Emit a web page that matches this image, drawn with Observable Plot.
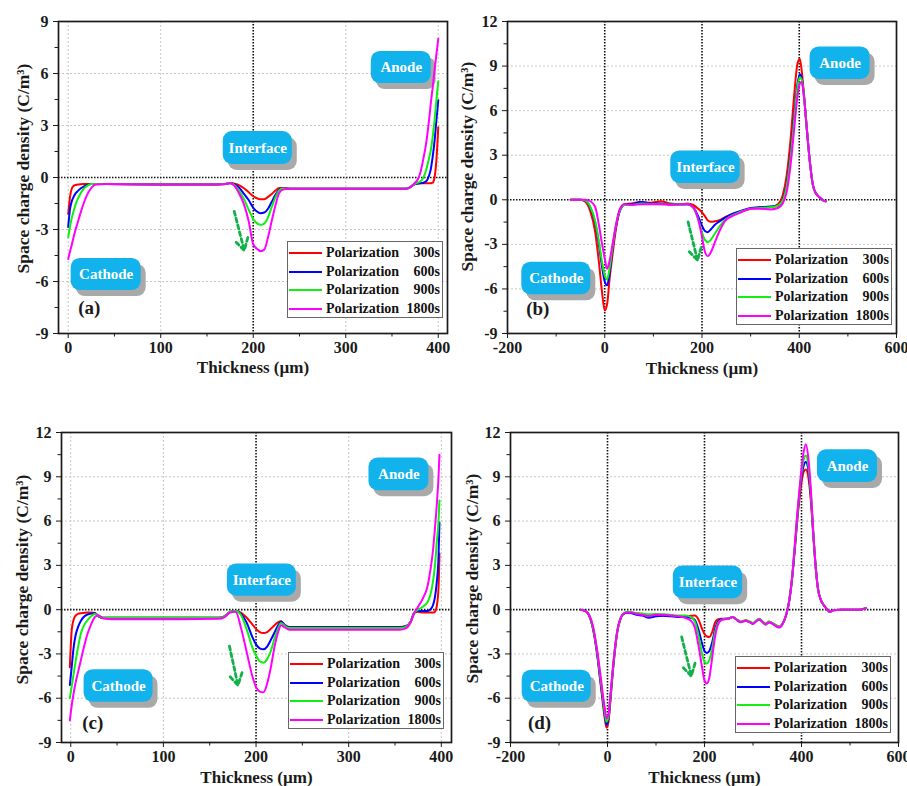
<!DOCTYPE html>
<html><head><meta charset="utf-8">
<script src="https://cdn.jsdelivr.net/npm/d3@7"></script>
<script src="https://cdn.jsdelivr.net/npm/@observablehq/plot@0.6"></script>
<style>
body{margin:0;background:#fff;}
#fig{position:relative;width:907px;height:786px;overflow:hidden;font-family:"Liberation Serif",serif;}
.panel{position:absolute;}
.legend{position:absolute;border:1px solid #666;background:#fff;font:bold 14px "Liberation Serif",serif;color:#111;box-sizing:border-box;padding:2px 2px 0 1px;}
.row{display:flex;align-items:center;height:18.5px;white-space:nowrap;}
.sw{width:33px;height:0;border-top:2.5px solid;margin-right:4px;}
.nm{flex:1;}
.tm{margin-left:3px;}
</style></head><body><div id="fig"></div><script>
// ---------- data ----------
const seriesName = "Polarization";
const seriesTimes = ["300s", "600s", "900s", "1800s"];
const seriesColors = ["#ff0000", "#0000ff", "#11ee11", "#ff00ff"];
const xLabel = "Thickness (µm)";
const yLabel = "Space charge density (C/m³)";

// Panel (a)
const aX =   [0, 2, 4, 6, 8, 10, 13, 16, 20, 25, 30, 40, 100, 160, 170, 175, 180, 185, 190, 195, 200, 205, 208, 212, 216, 220, 224, 228, 232, 240, 300, 365, 370, 374, 378, 381, 384, 387, 390, 392, 394, 396, 398, 400];
const aRed = [-2.1, -1.1, -0.62, -0.48, -0.43, -0.41, -0.39, -0.38, -0.38, -0.38, -0.37, -0.38, -0.4, -0.4, -0.38, -0.32, -0.36, -0.45, -0.62, -0.85, -1.08, -1.22, -1.26, -1.25, -1.12, -0.95, -0.75, -0.6, -0.6, -0.65, -0.65, -0.65, -0.55, -0.4, -0.35, -0.33, -0.33, -0.33, -0.33, -0.33, -0.3, 0.0, 1.0, 2.9];
const aBlue = [-2.85, -1.8, -1.35, -1.1, -0.92, -0.8, -0.65, -0.55, -0.45, -0.38, -0.37, -0.38, -0.4, -0.4, -0.38, -0.32, -0.4, -0.6, -0.95, -1.3, -1.75, -2.0, -2.06, -2.02, -1.8, -1.4, -1.0, -0.7, -0.63, -0.65, -0.65, -0.65, -0.55, -0.4, -0.35, -0.33, -0.3, -0.22, 0.1, 0.5, 1.2, 2.1, 3.3, 4.45];
const aGreen = [-3.45, -2.8, -2.3, -1.9, -1.55, -1.28, -0.95, -0.7, -0.5, -0.38, -0.37, -0.38, -0.4, -0.4, -0.38, -0.32, -0.45, -0.8, -1.25, -1.85, -2.4, -2.68, -2.73, -2.65, -2.3, -1.7, -1.15, -0.75, -0.64, -0.65, -0.65, -0.65, -0.55, -0.38, -0.3, -0.22, 0.0, 0.45, 1.1, 1.6, 2.35, 3.3, 4.45, 5.55];
const aMagenta = [-4.7, -4.25, -3.85, -3.4, -3.0, -2.65, -2.1, -1.6, -1.05, -0.6, -0.4, -0.38, -0.4, -0.4, -0.38, -0.33, -0.5, -0.95, -1.55, -2.5, -3.85, -4.15, -4.25, -4.15, -3.45, -2.5, -1.6, -0.9, -0.7, -0.65, -0.65, -0.65, -0.55, -0.35, -0.1, 0.35, 1.1, 2.0, 3.3, 4.3, 5.2, 6.2, 7.1, 8.0];

// Panel (b)
const bX = [-70, -50, -40, -30, -20, -12, -6, 0, 5, 10, 16, 22, 30, 40, 55, 75, 95, 115, 135, 155, 170, 182, 192, 200, 206, 212, 218, 226, 236, 248, 262, 280, 300, 320, 340, 356, 366, 374, 382, 390, 396, 401, 405, 410, 416, 422, 428, 435, 442, 450, 455];
const bRed = [0, 0, -0.13, -0.75, -2.1, -4.2, -6.1, -7.45, -7.0, -5.3, -3.7, -2.2, -0.8, -0.3, -0.25, -0.15, -0.2, -0.1, -0.25, -0.3, -0.25, -0.35, -0.6, -0.85, -1.1, -1.4, -1.48, -1.45, -1.38, -1.15, -0.97, -0.8, -0.6, -0.5, -0.5, -0.3, 0.3, 1.6, 4.0, 7.2, 9.1, 9.5, 8.7, 7.0, 4.6, 2.5, 1.0, 0.4, 0.15, -0.05, -0.1];
const bBlue = [0, 0, -0.05, -0.5, -1.5, -3.0, -4.4, -5.5, -5.75, -4.9, -3.3, -2.0, -0.85, -0.35, -0.3, -0.15, -0.25, -0.25, -0.3, -0.32, -0.3, -0.5, -1.1, -1.75, -2.1, -2.18, -2.0, -1.7, -1.45, -1.2, -0.95, -0.75, -0.55, -0.5, -0.45, -0.4, 0.0, 1.0, 3.0, 5.8, 7.7, 8.45, 8.2, 6.9, 4.6, 2.5, 1.0, 0.4, 0.15, -0.05, -0.1];
const bGreen = [0, 0, -0.05, -0.45, -1.4, -2.8, -4.1, -5.1, -5.35, -4.6, -3.2, -1.9, -0.8, -0.35, -0.35, -0.25, -0.28, -0.3, -0.32, -0.32, -0.3, -0.55, -1.3, -2.2, -2.7, -2.85, -2.7, -2.3, -1.8, -1.35, -1.05, -0.8, -0.6, -0.55, -0.5, -0.4, -0.05, 0.9, 2.8, 5.5, 7.5, 8.25, 8.1, 6.9, 4.6, 2.5, 1.0, 0.4, 0.15, -0.05, -0.1];
const bMagenta = [0, 0, 0, -0.1, -0.45, -1.7, -2.9, -3.95, -4.65, -4.1, -3.0, -1.9, -0.72, -0.3, -0.35, -0.3, -0.3, -0.3, -0.35, -0.3, -0.3, -0.5, -1.3, -2.5, -3.5, -3.8, -3.55, -2.9, -2.1, -1.4, -1.1, -0.85, -0.6, -0.6, -0.65, -0.55, -0.25, 0.5, 2.3, 4.9, 6.9, 7.8, 7.95, 6.8, 4.6, 2.5, 1.0, 0.4, 0.15, -0.05, -0.1];

// Panel (c)
const cX = [-1, 1, 3, 5, 8, 11, 14, 18, 22, 26, 30, 35, 45, 100, 160, 166, 172, 178, 184, 190, 196, 200, 204, 208, 212, 216, 220, 224, 227, 231, 236, 250, 300, 355, 362, 367, 371, 375, 380, 385, 388, 391, 393, 395, 397, 398];
const cRed = [-3.9, -1.4, -0.7, -0.42, -0.28, -0.24, -0.22, -0.2, -0.2, -0.22, -0.45, -0.55, -0.55, -0.55, -0.55, -0.45, -0.15, -0.1, -0.22, -0.55, -1.0, -1.3, -1.52, -1.59, -1.52, -1.3, -1.05, -0.85, -0.78, -1.05, -1.18, -1.18, -1.18, -1.18, -1.1, -0.8, -0.2, -0.15, -0.2, -0.2, -0.2, -0.2, -0.15, 0.2, 1.5, 3.8];
const cBlue = [-5.1, -3.9, -2.6, -1.8, -1.15, -0.75, -0.5, -0.33, -0.27, -0.25, -0.45, -0.55, -0.55, -0.55, -0.55, -0.45, -0.15, -0.1, -0.3, -0.9, -1.85, -2.35, -2.62, -2.69, -2.5, -2.05, -1.55, -1.05, -0.8, -1.05, -1.2, -1.2, -1.2, -1.2, -1.12, -0.8, -0.2, -0.1, -0.1, -0.1, 0.0, 0.3, 0.8, 1.8, 3.6, 5.9];
const cGreen = [-6.0, -5.2, -4.4, -3.6, -2.5, -1.6, -1.1, -0.73, -0.45, -0.3, -0.42, -0.55, -0.55, -0.55, -0.55, -0.45, -0.15, -0.1, -0.4, -1.35, -2.55, -3.1, -3.5, -3.59, -3.35, -2.8, -1.95, -1.25, -0.9, -1.1, -1.25, -1.25, -1.25, -1.25, -1.15, -0.8, -0.2, 0.0, 0.2, 0.5, 0.95, 1.9, 2.9, 4.5, 6.0, 7.4];
const cMagenta = [-7.5, -6.5, -5.7, -5.0, -4.2, -3.4, -2.6, -1.65, -1.0, -0.5, -0.38, -0.6, -0.65, -0.65, -0.62, -0.5, -0.2, -0.15, -1.3, -2.9, -4.5, -5.25, -5.55, -5.6, -5.0, -3.9, -2.5, -1.5, -1.05, -1.2, -1.36, -1.36, -1.36, -1.36, -1.25, -0.85, -0.2, 0.2, 0.75, 1.55, 2.6, 4.0, 5.4, 7.0, 9.0, 10.5];

// Panel (d)
const dX = [-55, -45, -38, -30, -22, -15, -9, -5, -2, 2, 6, 10, 15, 20, 26, 32, 40, 50, 60, 72, 85, 100, 115, 130, 145, 160, 172, 180, 188, 195, 200, 205, 210, 216, 222, 228, 235, 242, 250, 258, 265, 275, 285, 293, 300, 306, 313, 320, 326, 333, 340, 347, 354, 362, 368, 374, 380, 386, 392, 398, 404, 409, 414, 419, 424, 429, 434, 440, 446, 452, 458, 465, 480, 500, 520, 533];
const dRed = [0, -0.1, -0.4, -1.3, -2.9, -4.8, -6.5, -7.5, -8.0, -7.6, -6.2, -4.6, -2.9, -1.55, -0.7, -0.32, -0.2, -0.22, -0.25, -0.28, -0.4, -0.4, -0.4, -0.4, -0.45, -0.45, -0.42, -0.4, -0.7, -1.3, -1.65, -1.82, -1.85, -1.5, -0.85, -0.65, -0.62, -0.62, -0.6, -0.5, -0.65, -0.82, -0.72, -0.82, -0.92, -0.78, -0.65, -0.82, -0.95, -0.82, -0.92, -1.05, -1.15, -0.88, -0.4, 0.45, 1.9, 4.0, 6.3, 8.1, 9.3, 9.5, 9.0, 7.5, 5.2, 3.0, 1.4, 0.65, 0.3, 0.05, -0.15, -0.05, 0, 0, 0, 0.1];
const dBlue = [0, -0.1, -0.38, -1.25, -2.8, -4.7, -6.3, -7.3, -7.8, -7.4, -6.0, -4.5, -2.8, -1.5, -0.68, -0.32, -0.2, -0.25, -0.35, -0.4, -0.55, -0.45, -0.42, -0.45, -0.5, -0.5, -0.55, -0.7, -1.4, -2.3, -2.8, -2.93, -2.8, -2.2, -1.3, -0.8, -0.65, -0.62, -0.6, -0.5, -0.65, -0.85, -0.75, -0.85, -0.95, -0.8, -0.65, -0.85, -1.0, -0.85, -0.95, -1.1, -1.2, -0.9, -0.4, 0.45, 1.95, 4.1, 6.5, 8.5, 9.7, 10.0, 9.5, 7.8, 5.3, 3.0, 1.4, 0.65, 0.3, 0.05, -0.15, -0.05, 0, 0, 0, 0.1];
const dGreen = [0, -0.1, -0.37, -1.2, -2.7, -4.5, -6.1, -7.1, -7.6, -7.25, -5.9, -4.4, -2.75, -1.48, -0.66, -0.3, -0.15, -0.18, -0.25, -0.28, -0.32, -0.3, -0.32, -0.35, -0.4, -0.4, -0.5, -0.8, -1.8, -3.0, -3.55, -3.65, -3.4, -2.6, -1.5, -0.9, -0.7, -0.63, -0.6, -0.5, -0.62, -0.8, -0.72, -0.8, -0.9, -0.75, -0.62, -0.8, -0.95, -0.8, -0.9, -1.05, -1.15, -0.88, -0.4, 0.5, 2.0, 4.2, 6.6, 8.7, 10.1, 10.45, 9.8, 8.0, 5.3, 3.0, 1.4, 0.65, 0.3, 0.05, -0.15, -0.05, 0, 0, 0, 0.1];
const dMagenta = [0, -0.1, -0.35, -1.1, -2.6, -4.3, -5.9, -6.8, -7.35, -7.1, -5.8, -4.3, -2.7, -1.45, -0.65, -0.3, -0.2, -0.2, -0.3, -0.35, -0.45, -0.35, -0.35, -0.4, -0.45, -0.55, -0.75, -1.2, -2.5, -3.9, -4.8, -5.0, -4.6, -3.2, -1.8, -1.0, -0.7, -0.65, -0.6, -0.5, -0.65, -0.85, -0.75, -0.85, -0.95, -0.8, -0.65, -0.85, -1.0, -0.85, -0.95, -1.1, -1.2, -0.9, -0.4, 0.5, 2.0, 4.3, 6.8, 8.9, 10.6, 11.2, 10.3, 8.3, 5.4, 3.0, 1.4, 0.65, 0.3, 0.05, -0.15, -0.05, 0, 0, 0, 0.1];

// Tick values
const ticksX400 = [0, 100, 200, 300, 400];
const minorX400 = [50, 150, 250, 350];
const ticksX600 = [-200, 0, 200, 400, 600];
const minorX600 = [-100, 100, 300, 500];
const ticksY9 = [-9, -6, -3, 0, 3, 6, 9];
const ticksY12 = [-9, -6, -3, 0, 3, 6, 9, 12];

// ---------- annotation placement (data units) ----------
const annoA = [
  {label: "Anode", x1: 327.6, x2: 392.4, y1: 5.42, y2: 7.27},
  {label: "Interface", x1: 167.6, x2: 242.2, y1: 0.75, y2: 2.65},
  {label: "Cathode", x1: 3.2, x2: 78.9, y1: -6.52, y2: -4.67}];
const annoB = [
  {label: "Anode", x1: 422.3, x2: 545.7, y1: 8.10, y2: 10.29},
  {label: "Interface", x1: 135.8, x2: 278.4, y1: 1.10, y2: 3.29},
  {label: "Cathode", x1: -170.6, x2: -28.7, y1: -6.4, y2: -4.2}];
const annoC = [
  {label: "Anode", x1: 321.9, x2: 386.6, y1: 8.06, y2: 10.27},
  {label: "Interface", x1: 169.1, x2: 243.5, y1: 0.91, y2: 3.10},
  {label: "Cathode", x1: 14.4, x2: 88.8, y1: -6.28, y2: -4.07}];
const annoD = [
  {label: "Anode", x1: 432.9, x2: 556.7, y1: 8.62, y2: 10.83},
  {label: "Interface", x1: 135.7, x2: 278.7, y1: 0.74, y2: 2.95},
  {label: "Cathode", x1: -175.9, x2: -33.5, y1: -6.28, y2: -4.10}];

const panels = [
  {tag: "(a)", tagPos: [22.7, -7.5], x: aX, ys: [aRed, aBlue, aGreen, aMagenta],
   xDomain: [-10.5, 410], yDomain: [-9, 9], xTicks: ticksX400, xMinor: minorX400, yTicks: ticksY9,
   xGrid: [0, 100, 300, 400], yGrid: [-6, -3, 3, 6], vlines: [200], anno: annoA,
   arrow: {x1: 179.5, y1: -1.96, x2: 190.3, y2: -4.21},
   box: {left: 0, top: 0, width: 453, height: 390, mt: 21, mr: 6, mb: 57, ml: 58},
   ylab: {dx: -35, dy: -9}, xlabDy: 34, legend: {left: 287, top: 241}},
  {tag: "(b)", tagPos: [-137.7, -7.35], x: bX, ys: [bRed, bBlue, bGreen, bMagenta],
   xDomain: [-200, 600], yDomain: [-9, 12], xTicks: ticksX600, xMinor: minorX600, yTicks: ticksY12,
   xGrid: [], yGrid: [-6, -3, 3, 6, 9], vlines: [0, 200, 400], anno: annoB,
   arrow: {x1: 171.4, y1: -1.49, x2: 190.7, y2: -4.07},
   box: {left: 453, top: 0, width: 454, height: 390, mt: 21, mr: 11, mb: 57, ml: 54},
   ylab: {dx: -40, dy: -11}, xlabDy: 35, legend: {left: 283, top: 248}},
  {tag: "(c)", tagPos: [23.7, -7.7], x: cX, ys: [cRed, cBlue, cGreen, cMagenta],
   xDomain: [-10, 411], yDomain: [-9, 12], xTicks: ticksX400, xMinor: minorX400, yTicks: ticksY12,
   xGrid: [0, 100, 300, 400], yGrid: [-6, -3, 3, 6, 9], vlines: [200], anno: annoC,
   arrow: {x1: 171.3, y1: -2.47, x2: 180.5, y2: -5.13},
   box: {left: 0, top: 395, width: 453, height: 391, mt: 37, mr: 2, mb: 44, ml: 61},
   ylab: {dx: -39, dy: -8}, xlabDy: 35, legend: {left: 288, top: 257}},
  {tag: "(d)", tagPos: [-140.2, -7.7], x: dX, ys: [dRed, dBlue, dGreen, dMagenta],
   xDomain: [-200, 600], yDomain: [-9, 12], xTicks: ticksX600, xMinor: minorX600, yTicks: ticksY12,
   xGrid: [], yGrid: [-6, -3, 3, 6, 9], vlines: [0, 200, 400], anno: annoD,
   arrow: {x1: 152.9, y1: -1.85, x2: 172.9, y2: -4.5},
   box: {left: 453, top: 395, width: 454, height: 391, mt: 37, mr: 9, mb: 44, ml: 57},
   ylab: {dx: -38, dy: -9}, xlabDy: 35, legend: {left: 282, top: 261}}
];

const fig = document.getElementById("fig");
const fmt = d => String(d);

for (const p of panels) {
  const b = p.box;
  const plotH = b.height - b.mt - b.mb;
  const plotW = b.width - b.ml - b.mr;
  const yMinor = d3.range(p.yDomain[0] + 1.5, p.yDomain[1], 3);
  const lineMarks = p.ys.map((ys, si) =>
    Plot.line(ys.map((y, i) => ({x: p.x[i], y})), {x: "x", y: "y", stroke: seriesColors[si], strokeWidth: 2, curve: "monotone-x"}));
  const chart = Plot.plot({
    width: b.width, height: b.height,
    marginTop: b.mt, marginRight: b.mr, marginBottom: b.mb, marginLeft: b.ml,
    style: {fontFamily: "'Liberation Serif', serif", fontSize: "16px", fontWeight: "bold", color: "#1a1a1a", background: "transparent", overflow: "visible"},
    x: {domain: p.xDomain, ticks: p.xTicks, tickSize: 5, tickPadding: 3, tickFormat: fmt, label: null},
    y: {domain: p.yDomain, ticks: p.yTicks, tickSize: 5, tickPadding: 5, tickFormat: fmt, label: null},
    marks: [
      Plot.ruleY(p.yGrid, {stroke: "#c6c6c6", strokeDasharray: "2,2", strokeWidth: 1}),
      Plot.ruleX(p.xGrid, {stroke: "#c6c6c6", strokeDasharray: "2,2", strokeWidth: 1}),
      Plot.ruleY([0], {stroke: "#111", strokeDasharray: "1.5,1.5", strokeWidth: 1.6}),
      Plot.ruleX(p.vlines, {stroke: "#111", strokeDasharray: "1.5,1.5", strokeWidth: 1.6}),
      Plot.rect(p.anno, {x1: "x1", x2: "x2", y1: "y1", y2: "y2", fill: "#a9a9a9", rx: 9, dx: 5, dy: 6}),
      Plot.rect(p.anno, {x1: "x1", x2: "x2", y1: "y1", y2: "y2", fill: "#12b2ec", rx: 9}),
      Plot.text(p.anno, {x: d => (d.x1 + d.x2) / 2, y: d => (d.y1 + d.y2) / 2, text: "label", fill: "white", fontSize: 15, fontWeight: "bold"}),
      ...lineMarks,
      Plot.arrow([p.arrow], {x1: "x1", y1: "y1", x2: "x2", y2: "y2", stroke: "#12b04a", strokeWidth: 2.8, strokeDasharray: "4,3", headLength: 9}),
      Plot.text([p.tag], {x: () => p.tagPos[0], y: () => p.tagPos[1], text: d => d, fontSize: 19, fill: "#1a1a1a"}),
      Plot.ruleX(p.xMinor, {stroke: "#1a1a1a", insetTop: plotH, insetBottom: -3.5, strokeWidth: 1}),
      Plot.ruleY(yMinor, {stroke: "#1a1a1a", insetRight: plotW, insetLeft: -3.5, strokeWidth: 1}),
      Plot.frame({stroke: "#1a1a1a", strokeWidth: 1.7}),
      Plot.text([xLabel], {frameAnchor: "bottom", lineAnchor: "middle", textAnchor: "middle", dy: p.xlabDy, text: d => d, fontSize: 17, fill: "#1a1a1a"}),
      Plot.text([yLabel], {frameAnchor: "left", lineAnchor: "middle", textAnchor: "middle", rotate: -90, dx: p.ylab.dx, dy: p.ylab.dy, text: d => d, fontSize: 17.5, fill: "#1a1a1a"})
    ]
  });
  const wrap = document.createElement("div");
  wrap.className = "panel";
  wrap.style.left = b.left + "px";
  wrap.style.top = b.top + "px";
  wrap.style.width = b.width + "px";
  wrap.style.height = b.height + "px";
  wrap.appendChild(chart);
  const lg = document.createElement("div");
  lg.className = "legend";
  lg.style.left = p.legend.left + "px";
  lg.style.top = p.legend.top + "px";
  lg.style.width = "156px";
  lg.style.height = "77px";
  seriesTimes.forEach((t, i) => {
    const r = document.createElement("div");
    r.className = "row";
    const sw = document.createElement("span"); sw.className = "sw"; sw.style.borderTopColor = seriesColors[i];
    const nm = document.createElement("span"); nm.className = "nm"; nm.textContent = seriesName;
    const tm = document.createElement("span"); tm.className = "tm"; tm.textContent = t;
    r.append(sw, nm, tm);
    lg.appendChild(r);
  });
  wrap.appendChild(lg);
  fig.appendChild(wrap);
}
</script></body></html>
